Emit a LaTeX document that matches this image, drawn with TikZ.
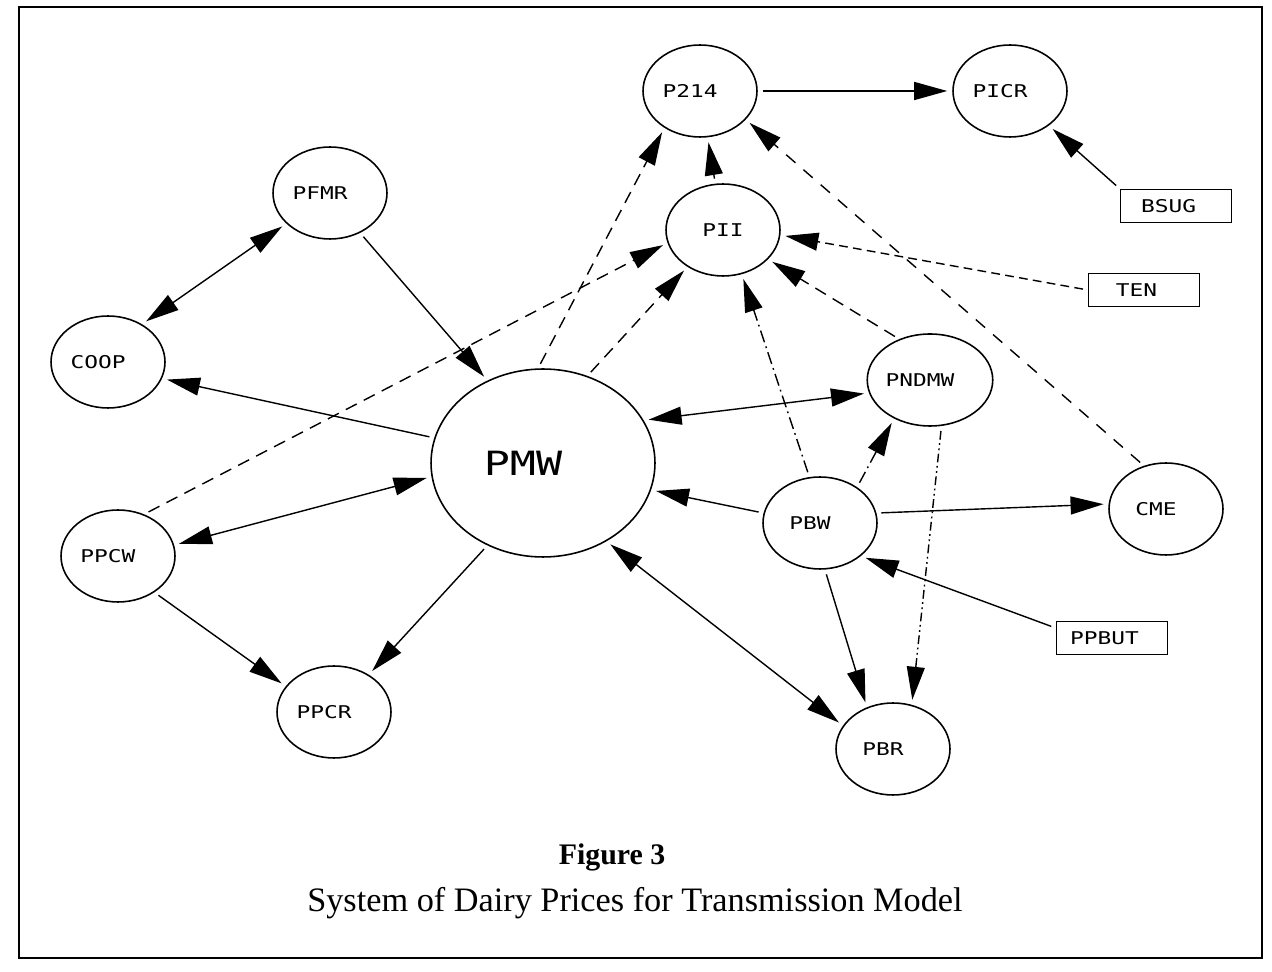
\documentclass[tikz,border=0pt]{standalone}
\usepackage{fontspec}
\setmainfont{Liberation Serif}
\newfontfamily\plotter[FakeStretch=1.3]{DejaVu Sans Mono}
\usetikzlibrary{shapes.geometric,arrows.meta}

\tikzset{
	cena0/.style={draw, ellipse, line width=0.9pt, inner sep=0pt, minimum width=2.28cm, minimum height=1.84cm, font=\plotter\fontsize{10}{12}\selectfont},
	cena/.style={cena0, execute at end node={\hspace*{0.4cm}}},
	vnesh/.style={draw, rectangle, line width=0.7pt, inner sep=0pt, minimum width=2.22cm, minimum height=0.66cm, font=\plotter\fontsize{10}{12}\selectfont, execute at end node={\hspace*{0.3cm}}},
	svyaz/.style={line width=0.8pt, shorten >=0.1cm, shorten <=0.1cm, -{Triangle[length=0.66cm,width=0.36cm]}},
	dvoyn/.style={svyaz, {Triangle[length=0.66cm,width=0.36cm]}-{Triangle[length=0.66cm,width=0.36cm]}},
	shtrih/.style={dash pattern=on 7pt off 4.5pt},
	redko/.style={dash pattern=on 7pt off 6pt},
	melko/.style={dash pattern=on 5pt off 3pt},
	shtrihpunkt/.style={dash pattern=on 7pt off 2.5pt on 1pt off 2.5pt},
	shtrihdva/.style={dash pattern=on 5pt off 2pt on 1pt off 2pt on 1pt off 2pt}
}

\begin{document}
	\begin{tikzpicture}[x=0.02cm, y=-0.02cm]
		\useasboundingbox ( 0, 0 ) rectangle ( 1272, 972 );

		% рамка
		\draw [line width=1.6pt] ( 19, 7 ) rectangle ( 1262, 958 );

		% цены
		\node [cena] (P214) at ( 700, 91 ) {P214};
		\node [cena] (PICR) at ( 1010, 91 ) {PICR};
		\node [cena0] (PII) at ( 723, 230 ) {PII};
		\node [cena] (PFMR) at ( 330, 193 ) {PFMR};
		\node [cena] (COOP) at ( 108, 362 ) {COOP};
		\node [cena] (PNDMW) at ( 930, 380 ) {PNDMW};
		\node [cena0, minimum width=4.48cm, minimum height=3.76cm, font=\plotter\fontsize{19}{22}\selectfont, execute at end node={\hspace*{0.8cm}}] (PMW) at ( 543, 463 ) {PMW};
		\node [cena] (PBW) at ( 820, 523 ) {PBW};
		\node [cena] (CME) at ( 1166, 509 ) {CME};
		\node [cena] (PPCW) at ( 118, 556 ) {PPCW};
		\node [cena] (PPCR) at ( 334, 712 ) {PPCR};
		\node [cena] (PBR) at ( 893, 749 ) {PBR};

		% внешние переменные
		\node [vnesh] (BSUG) at ( 1176, 206 ) {BSUG};
		\node [vnesh] (TEN) at ( 1144, 290 ) {TEN};
		\node [vnesh] (PPBUT) at ( 1112, 638 ) {PPBUT};

		% сплошные связи
		\draw [svyaz] (P214) -- (PICR);
		\draw [svyaz] (BSUG.north west) -- (PICR);
		\draw [dvoyn] (COOP.48) -- (PFMR.215);
		\draw [svyaz] (PFMR.-53) -- (PMW.124);
		\draw [svyaz] (PMW.167) -- (COOP.-17);
		\draw [dvoyn] (PMW.23) -- (PNDMW.192);
		\draw [svyaz] (PBW.170) -- (PMW.-14);
		\draw [dvoyn] (PPCW.11) -- (PMW.187);
		\draw [svyaz] (PBW.10) -- (CME.175);
		\draw [svyaz] (PPBUT.170) -- (PBW.-39);
		\draw [svyaz] (PBW.-84) -- (PBR.122);
		\draw [dvoyn] (PMW.-51) -- (PBR.155);
		\draw [svyaz] (PPCW.-45) -- (PPCR.152);
		\draw [svyaz] (PMW.236) -- (PPCR.47);

		% штриховые связи
		\draw [svyaz, shtrih] (PII) -- (P214);
		\draw [svyaz, shtrih] (PMW.93) -- (P214.226);
		\draw [svyaz, redko] (CME.117) -- (P214.-32);
		\draw [svyaz, melko] (TEN.west) -- (PII.-5);
		\draw [svyaz, shtrih] (PMW.63) -- (PII.226);
		\draw [svyaz, shtrih] (PPCW.58) -- (PII.193);
		\draw [svyaz, shtrihpunkt] (PBW.103) -- (PII.-67);
		\draw [svyaz, shtrih] (PNDMW.127) -- (PII.-33);
		\draw [svyaz, shtrihpunkt] (PBW.44) -- (PNDMW.227);
		\draw [svyaz, shtrihdva] (PNDMW.-76) -- (PBR.67);

		% подпись
		\node (fig) at ( 612, 857 ) {\bfseries\fontsize{17}{20}\selectfont Figure 3};
		\node (title) at ( 635, 903 ) {\fontsize{19.5}{23}\selectfont System of Dairy Prices for Transmission Model};
	\end{tikzpicture}
\end{document}
